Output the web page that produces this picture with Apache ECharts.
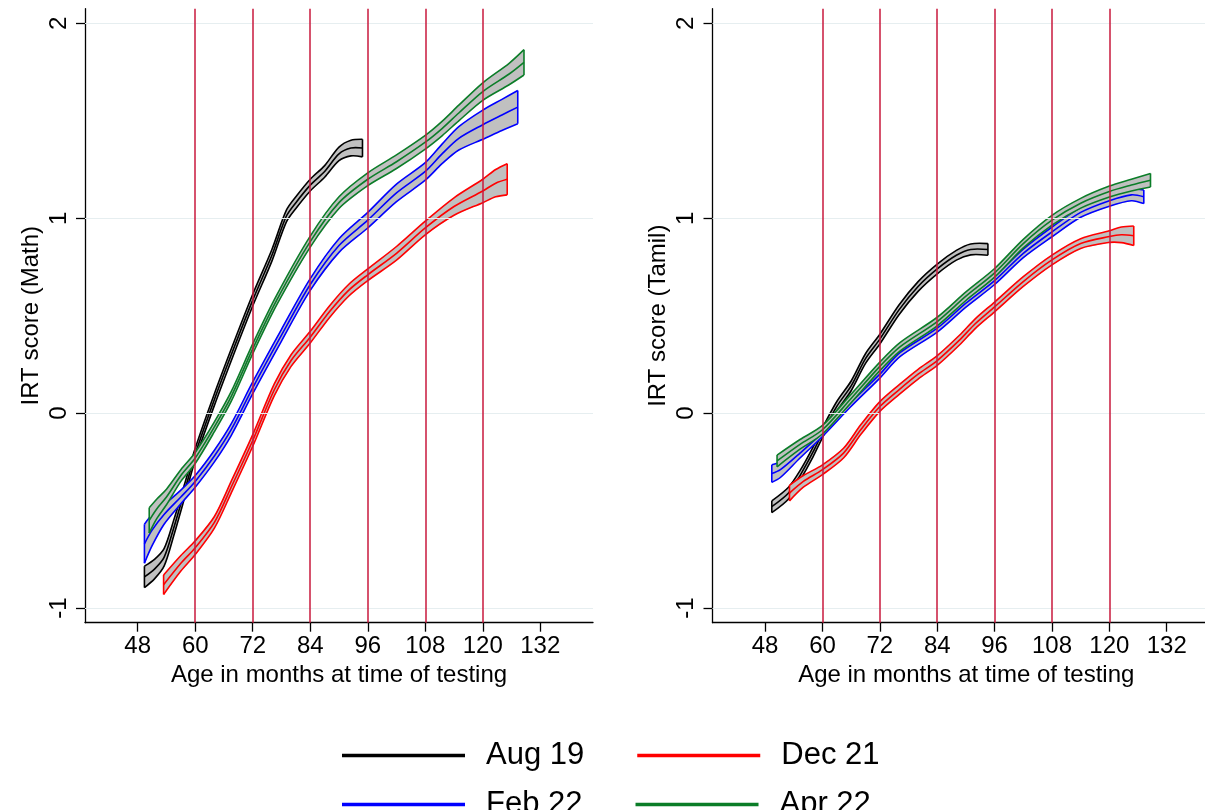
<!DOCTYPE html>
<html>
<head>
<meta charset="utf-8">
<title>IRT score by age in months</title>
<script src="https://cdn.jsdelivr.net/npm/echarts@6/dist/echarts.min.js"></script>
<style>
html, body { margin: 0; padding: 0; background: #fff; }
#chart { width: 1205px; height: 810px; }
</style>
</head>
<body>
<div id="chart"></div>
<script>
// axes
var xTicks = [48, 60, 72, 84, 96, 108, 120, 132];
var yTicks = [-1, 0, 1, 2];
var refLines = [60, 72, 84, 96, 108, 120];
var rounds = ['Aug 19', 'Dec 21', 'Feb 22', 'Apr 22'];
var roundColors = ['#000000', '#ff0000', '#0000ff', '#0b7d28'];

// Math panel: age (months), fitted score, half width of the band
var mathAugX  = [49.4, 51.5, 53.5, 55.5, 58, 60, 64, 68, 72, 76, 79, 81, 84, 87, 90, 92.5, 94.9];
var mathAugY  = [-0.84, -0.80, -0.74, -0.59, -0.38, -0.21, 0.07, 0.33, 0.58, 0.81, 1.01, 1.08, 1.17, 1.24, 1.33, 1.36, 1.36];
var mathAugCi = [0.055, 0.05, 0.045, 0.04, 0.035, 0.03, 0.03, 0.03, 0.03, 0.03, 0.03, 0.03, 0.03, 0.03, 0.035, 0.04, 0.045];

var mathDecX  = [53.4, 57, 60, 64, 67.5, 72, 76.5, 80, 84, 88, 92, 96, 102, 108, 114, 120, 122.7, 125.1];
var mathDecY  = [-0.88, -0.77, -0.69, -0.56, -0.38, -0.14, 0.12, 0.27, 0.39, 0.52, 0.63, 0.71, 0.82, 0.95, 1.06, 1.14, 1.18, 1.20];
var mathDecCi = [0.05, 0.04, 0.035, 0.03, 0.03, 0.03, 0.03, 0.03, 0.03, 0.03, 0.03, 0.03, 0.035, 0.035, 0.045, 0.06, 0.07, 0.08];

var mathFebX  = [49.4, 51, 53.5, 57, 60, 64, 67.5, 72, 78, 84, 90, 96, 102, 108, 111.5, 115, 120, 124, 127.3];
var mathFebY  = [-0.67, -0.60, -0.52, -0.43, -0.35, -0.22, -0.085, 0.13, 0.40, 0.66, 0.86, 0.99, 1.13, 1.24, 1.33, 1.41, 1.48, 1.53, 1.57];
var mathFebCi = [0.10, 0.08, 0.05, 0.035, 0.03, 0.03, 0.03, 0.03, 0.03, 0.03, 0.035, 0.04, 0.045, 0.045, 0.05, 0.06, 0.075, 0.08, 0.085];

var mathAprX  = [50.4, 52, 54, 57, 60, 64, 67.5, 72, 77, 84, 90, 96, 102, 108, 111.5, 115, 120, 125.5, 128.6];
var mathAprY  = [-0.55, -0.49, -0.43, -0.32, -0.23, -0.07, 0.085, 0.33, 0.58, 0.88, 1.08, 1.20, 1.29, 1.39, 1.46, 1.54, 1.65, 1.74, 1.80];
var mathAprCi = [0.065, 0.05, 0.04, 0.03, 0.028, 0.025, 0.025, 0.025, 0.025, 0.028, 0.03, 0.033, 0.035, 0.035, 0.037, 0.04, 0.045, 0.055, 0.065];

// Tamil panel
var tamAugX  = [49.4, 52.9, 55.3, 58, 60, 63, 66, 69, 72, 76, 80, 84, 88, 91, 94.6];
var tamAugY  = [-0.48, -0.41, -0.32, -0.20, -0.10, 0.035, 0.14, 0.28, 0.38, 0.53, 0.65, 0.74, 0.81, 0.84, 0.84];
var tamAugCi = [0.03, 0.03, 0.025, 0.025, 0.025, 0.025, 0.025, 0.025, 0.025, 0.025, 0.025, 0.025, 0.025, 0.028, 0.03];

var tamDecX  = [53.1, 56, 60, 64.4, 68, 72, 76, 80, 84, 88.7, 92, 96, 102, 108, 114, 120, 122.5, 125.1];
var tamDecY  = [-0.41, -0.35, -0.29, -0.205, -0.085, 0.034, 0.12, 0.20, 0.27, 0.376, 0.46, 0.545, 0.675, 0.786, 0.87, 0.906, 0.915, 0.91];
var tamDecCi = [0.04, 0.03, 0.025, 0.025, 0.025, 0.025, 0.025, 0.025, 0.025, 0.025, 0.025, 0.025, 0.025, 0.025, 0.025, 0.03, 0.04, 0.05];

var tamFebX  = [49.4, 51.2, 55.3, 60, 65.8, 72, 76.2, 84, 90, 96, 102, 108, 114, 120, 124.6, 127.2];
var tamFebY  = [-0.31, -0.29, -0.205, -0.10, 0.05, 0.20, 0.31, 0.436, 0.564, 0.68, 0.82, 0.93, 1.03, 1.09, 1.12, 1.11];
var tamFebCi = [0.045, 0.04, 0.025, 0.02, 0.02, 0.02, 0.02, 0.02, 0.02, 0.02, 0.022, 0.025, 0.025, 0.028, 0.03, 0.035];

var tamAprX  = [50.5, 55.3, 60, 65.8, 72, 76.2, 84, 90, 96, 102, 108, 114, 120, 124.6, 128.6];
var tamAprY  = [-0.245, -0.16, -0.085, 0.07, 0.24, 0.34, 0.47, 0.60, 0.72, 0.87, 0.99, 1.077, 1.137, 1.17, 1.195];
var tamAprCi = [0.03, 0.025, 0.022, 0.022, 0.022, 0.022, 0.022, 0.022, 0.022, 0.022, 0.025, 0.025, 0.028, 0.03, 0.035];

var FONT = 'Liberation Sans, Arial, sans-serif';
var BAND_FILL = '#c0c0c0';
var GRID_COLOR = '#e6eef0';
var REF_COLOR = '#c8193c';
var LW = 1.6;

function rowsOf(xs, ys, ci) {
    var rows = [];
    for (var i = 0; i < xs.length; i++) {
        rows.push([xs[i], ys[i] - ci[i], ys[i], ys[i] + ci[i]]);
    }
    return rows;
}

// draws the whole band (fill, edges, fitted line) once, from the first item
function bandRenderer(rows, color) {
    return function (params, api) {
        if (params.dataIndex !== 0) return null;
        var upper = [], lower = [], mid = [];
        for (var i = 0; i < rows.length; i++) {
            upper.push(api.coord([rows[i][0], rows[i][3]]));
            mid.push(api.coord([rows[i][0], rows[i][2]]));
            lower.push(api.coord([rows[i][0], rows[i][1]]));
        }
        var poly = upper.concat(lower.slice().reverse());
        var first = 0, last = rows.length - 1;
        var edge = { fill: null, stroke: color, lineWidth: LW, lineJoin: 'round' };
        return {
            type: 'group',
            children: [
                { type: 'polygon', shape: { points: poly }, style: { fill: BAND_FILL } },
                { type: 'polyline', shape: { points: upper, smooth: 0.3 }, style: edge },
                { type: 'polyline', shape: { points: lower, smooth: 0.3 }, style: edge },
                { type: 'polyline', shape: { points: mid, smooth: 0.3 }, style: edge },
                { type: 'line', shape: { x1: upper[first][0], y1: upper[first][1], x2: lower[first][0], y2: lower[first][1] }, style: edge },
                { type: 'line', shape: { x1: upper[last][0], y1: upper[last][1], x2: lower[last][0], y2: lower[last][1] }, style: edge }
            ]
        };
    };
}

function bandSeries(name, idx, xs, ys, ci, color) {
    var rows = rowsOf(xs, ys, ci);
    return {
        name: name,
        type: 'custom',
        xAxisIndex: idx,
        yAxisIndex: idx,
        z: 3,
        data: rows,
        encode: { x: 0, y: [1, 2, 3] },
        itemStyle: { color: color },
        renderItem: bandRenderer(rows, color)
    };
}

function guideSeries(idx) {
    var lines = [];
    yTicks.forEach(function (v) {
        lines.push({ yAxis: v, lineStyle: { color: GRID_COLOR, width: 1.2, type: 'solid' } });
    });
    refLines.forEach(function (v) {
        lines.push({ xAxis: v, lineStyle: { color: REF_COLOR, width: 1.5, type: 'solid' } });
    });
    return {
        type: 'line',
        xAxisIndex: idx,
        yAxisIndex: idx,
        data: [],
        z: 1,
        silent: true,
        markLine: { silent: true, symbol: 'none', label: { show: false }, animation: false, data: lines }
    };
}

// the right panel is cut off at the page edge, so its axis stops at 140
// (its title keeps the centre of the full 37-143 axis)
function xAxisOf(idx, max, titleShift) {
    return {
        gridIndex: idx,
        type: 'value',
        min: 37,
        max: max,
        name: 'Age in months at time of testing',
        nameLocation: 'middle',
        nameGap: 34,
        nameTextStyle: { color: '#000', fontSize: 24, fontFamily: FONT, padding: [0, 0, 0, titleShift] },
        axisLine: { show: true, onZero: false, lineStyle: { color: '#000', width: 1.3 } },
        axisTick: { show: true, length: 9, customValues: xTicks, lineStyle: { color: '#000', width: 1.3 } },
        axisLabel: { customValues: xTicks, margin: 12, color: '#000', fontSize: 24, fontFamily: FONT },
        splitLine: { show: false }
    };
}

function yAxisOf(idx, title) {
    return {
        gridIndex: idx,
        type: 'value',
        min: -1.075,
        max: 2.075,
        name: title,
        nameLocation: 'middle',
        nameGap: 42,
        nameTextStyle: { color: '#000', fontSize: 24, fontFamily: FONT },
        axisLine: { show: true, onZero: false, lineStyle: { color: '#000', width: 1.3 } },
        axisTick: { show: true, length: 9, customValues: yTicks, lineStyle: { color: '#000', width: 1.3 } },
        axisLabel: { customValues: yTicks, rotate: 90, margin: 14, color: '#000', fontSize: 24, fontFamily: FONT },
        splitLine: { show: false }
    };
}

var series = [guideSeries(0), guideSeries(1)];
series.push(bandSeries(rounds[0], 0, mathAugX, mathAugY, mathAugCi, roundColors[0]));
series.push(bandSeries(rounds[1], 0, mathDecX, mathDecY, mathDecCi, roundColors[1]));
series.push(bandSeries(rounds[2], 0, mathFebX, mathFebY, mathFebCi, roundColors[2]));
series.push(bandSeries(rounds[3], 0, mathAprX, mathAprY, mathAprCi, roundColors[3]));
series.push(bandSeries(rounds[0], 1, tamAugX, tamAugY, tamAugCi, roundColors[0]));
series.push(bandSeries(rounds[1], 1, tamDecX, tamDecY, tamDecCi, roundColors[1]));
series.push(bandSeries(rounds[2], 1, tamFebX, tamFebY, tamFebCi, roundColors[2]));
series.push(bandSeries(rounds[3], 1, tamAprX, tamAprY, tamAprCi, roundColors[3]));

function legendRow(names, top) {
    return {
        data: names,
        left: 342,
        top: top,
        orient: 'horizontal',
        padding: 0,
        icon: 'rect',
        itemWidth: 123,
        itemHeight: 3.5,
        itemGap: 53,
        selectedMode: false,
        textStyle: { color: '#000', fontSize: 31, fontFamily: FONT, width: 118, padding: [0, 0, 0, 16] }
    };
}

var myChart = echarts.init(document.getElementById('chart'));
var option = {
    backgroundColor: '#fff',
    animation: false,
    grid: [
        { left: 85, top: 8.7, width: 508, height: 614 },
        { left: 712.5, top: 8.7, width: 492.5, height: 614 }
    ],
    xAxis: [xAxisOf(0, 143, 0), xAxisOf(1, 140, 15)],
    yAxis: [yAxisOf(0, 'IRT score (Math)'), yAxisOf(1, 'IRT score (Tamil)')],
    legend: [
        legendRow([rounds[0], rounds[1]], 740),
        legendRow([rounds[2], rounds[3]], 789)
    ],
    series: series
};
myChart.setOption(option);
window.addEventListener('resize', function () {
    myChart.resize();
});
</script>
</body>
</html>
